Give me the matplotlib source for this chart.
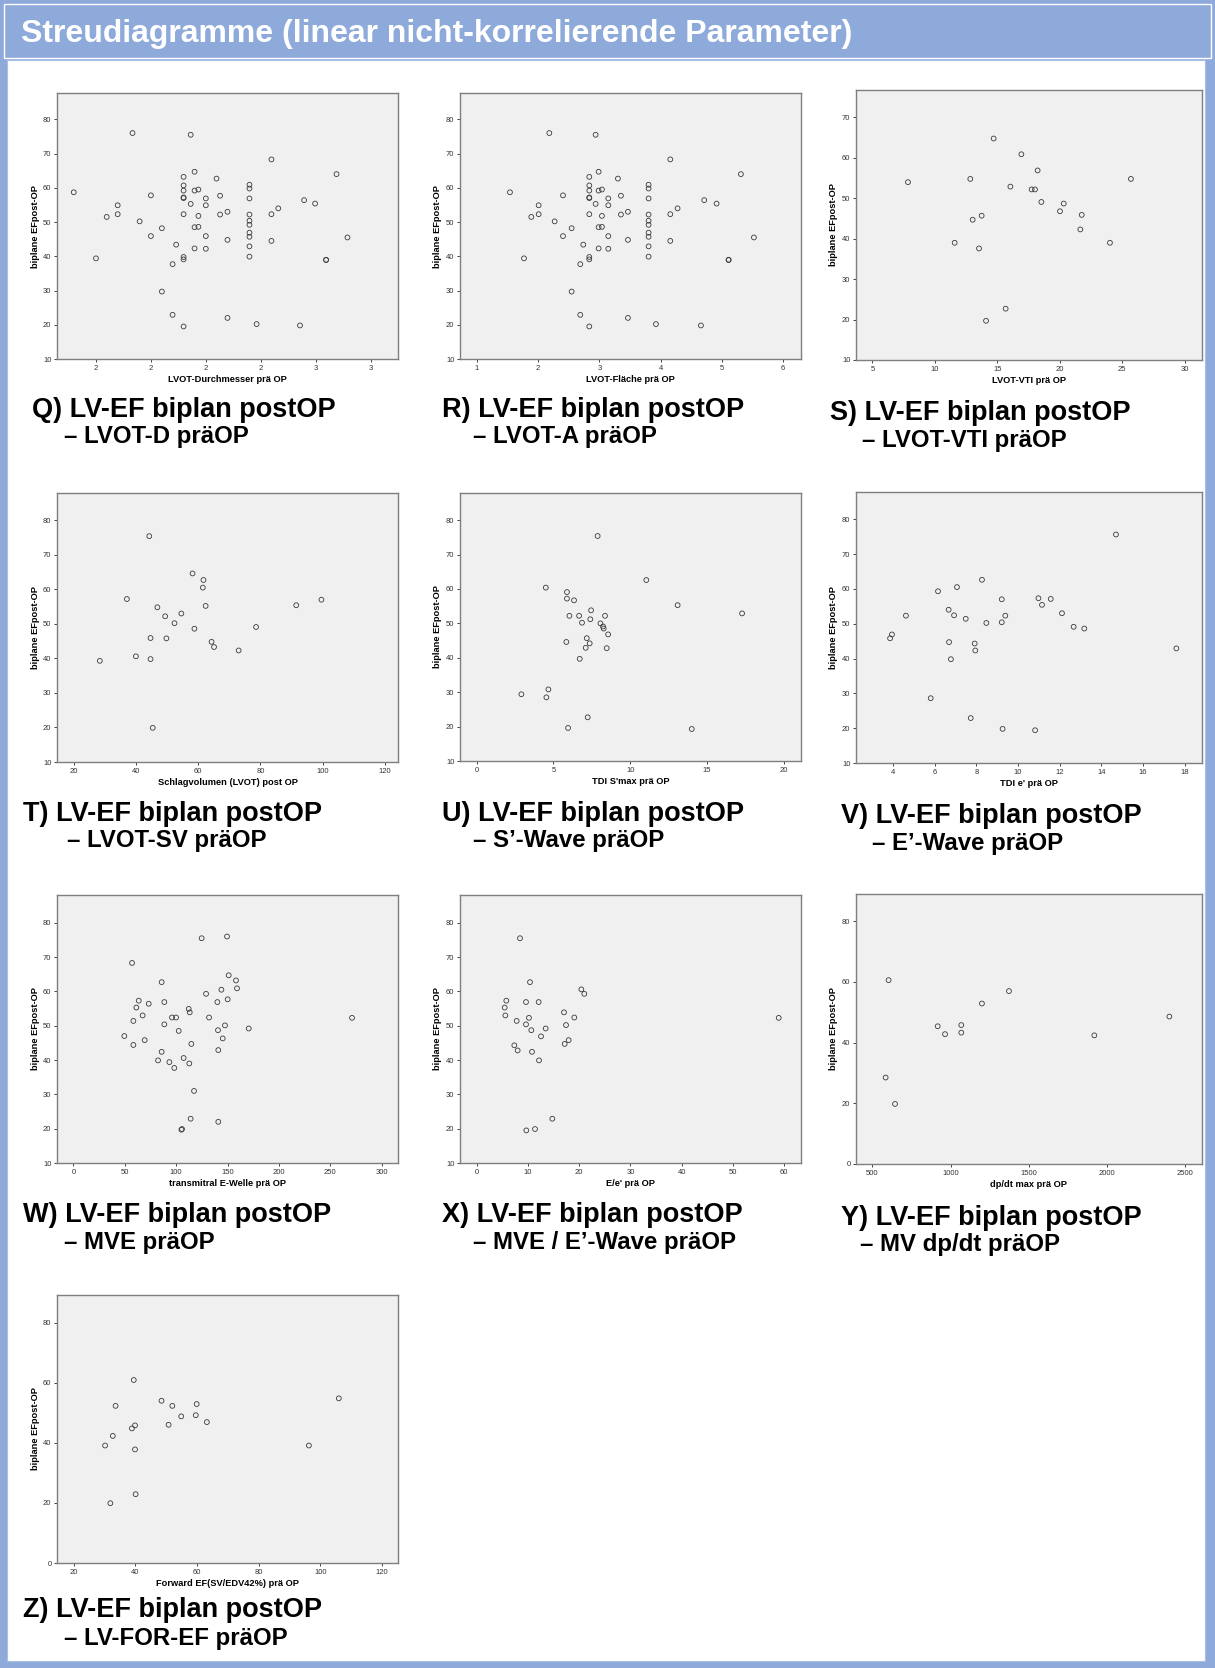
import matplotlib
matplotlib.use("Agg")
import matplotlib.pyplot as plt
from matplotlib.patches import Rectangle

plt.rcParams['font.family'] = ['Liberation Sans', 'DejaVu Sans']

W, H = 1215, 1668
BLUE = '#8eaadb'

# Q / R: same patients, LVOT diameter and LVOT area
ef_qr = [58.7, 39.4, 51.5, 54.9, 52.3, 76.0, 50.2, 57.8, 45.9, 48.2, 29.7, 37.7, 22.9, 43.4,
         63.2, 60.7, 59.2, 57.2, 57.0, 52.3, 39.8, 39.1, 19.5, 75.5, 55.3, 64.7, 59.2, 48.5,
         42.3, 59.5, 51.8, 48.6, 56.9, 54.9, 45.9, 42.2, 62.7, 57.7, 52.2, 53.0, 44.8, 22.0,
         60.9, 59.8, 56.9, 52.2, 50.4, 49.2, 46.9, 45.7, 42.9, 39.9, 20.2, 68.3, 52.3, 44.5,
         54.0, 19.8, 56.4, 55.4, 39.0, 38.9, 64.0, 45.5]
lvot_d = [1.719, 1.80, 1.839, 1.879, 1.879, 1.933, 1.959, 2.0, 2.0, 2.04, 2.04, 2.079, 2.079, 2.092,
          2.119, 2.119, 2.119, 2.119, 2.119, 2.119, 2.119, 2.119, 2.119, 2.145, 2.145, 2.159, 2.159, 2.159,
          2.159, 2.173, 2.173, 2.173, 2.2, 2.2, 2.2, 2.2, 2.239, 2.252, 2.252, 2.279, 2.279, 2.279,
          2.359, 2.359, 2.359, 2.359, 2.359, 2.359, 2.359, 2.359, 2.359, 2.359, 2.385, 2.439, 2.439, 2.439,
          2.464, 2.543, 2.558, 2.598, 2.638, 2.638, 2.676, 2.716]
lvot_a = [1.543, 1.772, 1.891, 2.011, 2.011, 2.185, 2.272, 2.408, 2.408, 2.549, 2.549, 2.690, 2.690, 2.739,
          2.837, 2.837, 2.837, 2.837, 2.837, 2.837, 2.837, 2.837, 2.837, 2.940, 2.940, 2.989, 2.989, 2.989,
          2.989, 3.043, 3.043, 3.043, 3.147, 3.147, 3.147, 3.147, 3.304, 3.353, 3.353, 3.467, 3.467, 3.467,
          3.804, 3.804, 3.804, 3.804, 3.804, 3.804, 3.804, 3.804, 3.804, 3.804, 3.924, 4.158, 4.158, 4.158,
          4.277, 4.658, 4.712, 4.913, 5.109, 5.109, 5.310, 5.522]

# S: LVOT-VTI
lvot_vti = [7.85, 11.59, 12.84, 13.03, 13.54, 13.75, 14.10, 14.71, 15.67, 16.05, 16.93, 17.75, 18.02,
            18.23, 18.53, 20.02, 20.32, 21.65, 21.76, 24.02, 25.70]
ef_s = [54.0, 39.0, 54.8, 44.7, 37.6, 45.7, 19.7, 64.8, 22.7, 52.9, 60.9, 52.2, 52.2,
        56.9, 49.1, 46.8, 48.7, 42.3, 45.9, 39.0, 54.8]

# T: Schlagvolumen
sv_lvot = [28.4, 37.1, 40.0, 44.3, 44.7, 44.7, 45.4, 46.9, 49.4, 49.8, 52.4, 54.6, 58.2, 58.8,
           61.7, 61.5, 62.4, 64.3, 65.1, 73.0, 78.6, 91.5, 99.6]
ef_t = [39.3, 57.2, 40.6, 75.4, 45.9, 39.8, 19.9, 54.8, 52.2, 45.8, 50.2, 53.0, 64.6, 48.6,
        62.7, 60.5, 55.2, 44.8, 43.3, 42.3, 49.1, 55.4, 57.0]

# U: TDI S'max
tdi_s = [2.91, 4.50, 4.54, 4.67, 5.84, 5.88, 5.88, 5.95, 6.04, 6.34, 6.67, 6.71, 6.86, 7.10, 7.17,
         7.23, 7.36, 7.40, 7.45, 7.88, 8.06, 8.23, 8.27, 8.36, 8.47, 8.56, 11.05, 13.09, 14.01, 17.29]
ef_u = [29.4, 60.4, 28.5, 30.8, 44.6, 59.1, 57.2, 19.6, 52.2, 56.7, 52.2, 39.7, 50.2, 42.9, 45.7,
        22.7, 44.2, 51.2, 53.8, 75.4, 50.0, 49.1, 48.5, 52.2, 42.8, 46.8, 62.6, 55.3, 19.3, 52.9]

# V: TDI e'
tdi_e = [3.86, 3.95, 4.62, 5.81, 6.16, 6.67, 6.69, 6.78, 6.93, 7.07, 7.49, 7.73, 7.92, 7.95, 8.27,
         8.48, 9.22, 9.22, 9.26, 9.39, 10.82, 10.98, 11.15, 11.57, 12.11, 12.67, 13.18, 14.70, 17.60]
ef_v = [45.8, 46.9, 52.3, 28.6, 59.3, 54.0, 44.7, 39.8, 52.4, 60.5, 51.4, 22.9, 44.3, 42.3, 62.6,
        50.2, 50.4, 57.0, 19.8, 52.3, 19.4, 57.3, 55.4, 57.1, 53.0, 49.1, 48.6, 75.6, 42.9]

# W: transmitral E-Welle
mv_e = [49.6, 57.1, 58.4, 58.4, 61.3, 63.6, 67.4, 69.4, 73.3, 82.4, 85.9, 85.9, 88.5, 88.5, 93.4,
        96.0, 98.2, 99.9, 102.5, 105.1, 105.7, 107.3, 112.2, 112.8, 113.2, 114.1, 114.8, 117.4, 124.8,
        129.1, 132.0, 140.1, 140.7, 141.0, 141.0, 144.0, 145.3, 147.5, 149.5, 150.1, 151.1, 158.2,
        159.2, 170.6, 271.1]
ef_w = [47.0, 68.3, 51.4, 44.4, 55.3, 57.3, 53.0, 45.8, 56.4, 39.9, 62.7, 42.4, 56.9, 50.4, 39.4,
        52.4, 37.7, 52.4, 48.5, 19.7, 19.9, 40.6, 54.9, 39.0, 53.9, 22.9, 44.7, 31.0, 75.5,
        59.3, 52.4, 56.9, 48.7, 42.9, 22.0, 60.5, 46.3, 50.1, 76.0, 57.7, 64.7, 63.2,
        60.9, 49.2, 52.3]

# X: E/e'
e_e = [5.47, 5.60, 5.79, 7.35, 7.81, 8.0, 8.46, 9.63, 9.63, 9.69, 10.21, 10.41, 10.67, 10.8,
       11.39, 12.1, 12.17, 12.56, 13.47, 14.77, 17.05, 17.18, 17.44, 17.96, 19.06, 20.43, 21.01, 58.95]
ef_x = [55.3, 53.0, 57.3, 44.3, 51.4, 42.8, 75.5, 56.9, 50.4, 19.5, 52.3, 62.7, 48.7, 42.4,
        19.9, 56.9, 39.9, 46.9, 49.2, 22.9, 53.9, 44.7, 50.2, 45.8, 52.4, 60.6, 59.3, 52.3]

# Y: dp/dt max
dpdt = [585, 604, 645, 918, 965, 1069, 1069, 1201, 1374, 1920, 2400]
ef_y = [28.5, 60.6, 19.8, 45.4, 42.8, 45.8, 43.3, 52.9, 57.0, 42.4, 48.6]

# Z: Forward EF
fwd_ef = [30.2, 31.9, 32.7, 33.6, 38.9, 39.5, 39.9, 39.9, 40.1, 48.5, 50.8, 52.0, 54.9, 59.6,
          59.9, 63.2, 96.3, 106.0]
ef_z = [39.1, 19.9, 42.3, 52.3, 44.8, 60.9, 45.8, 37.8, 22.9, 54.0, 46.0, 52.3, 48.8, 49.2,
        52.9, 46.9, 39.1, 54.8]

xlabels = ["LVOT-Durchmesser prä OP", "LVOT-Fläche prä OP", "LVOT-VTI prä OP",
           "Schlagvolumen (LVOT) post OP", "TDI S'max prä OP", "TDI e' prä OP",
           "transmitral E-Welle prä OP", "E/e' prä OP", "dp/dt max prä OP",
           "Forward EF(SV/EDV42%) prä OP"]
captions = [("Q) LV-EF biplan postOP", "– LVOT-D präOP"),
            ("R) LV-EF biplan postOP", "– LVOT-A präOP"),
            ("S) LV-EF biplan postOP", "– LVOT-VTI präOP"),
            ("T) LV-EF biplan postOP", "– LVOT-SV präOP"),
            ("U) LV-EF biplan postOP", "– S’-Wave präOP"),
            ("V) LV-EF biplan postOP", "– E’-Wave präOP"),
            ("W) LV-EF biplan postOP", "– MVE präOP"),
            ("X) LV-EF biplan postOP", "– MVE / E’-Wave präOP"),
            ("Y) LV-EF biplan postOP", "– MV dp/dt präOP"),
            ("Z) LV-EF biplan postOP", "– LV-FOR-EF präOP")]
xticks = [[1.8, 2.0, 2.2, 2.4, 2.6, 2.8], [1, 2, 3, 4, 5, 6], [5, 10, 15, 20, 25, 30],
          [20, 40, 60, 80, 100, 120], [0, 5, 10, 15, 20], [4, 6, 8, 10, 12, 14, 16, 18],
          [0, 50, 100, 150, 200, 250, 300], [0, 10, 20, 30, 40, 50, 60],
          [500, 1000, 1500, 2000, 2500], [20, 40, 60, 80, 100, 120]]
yticks_a = [10, 20, 30, 40, 50, 60, 70, 80]
yticks_s = [10, 20, 30, 40, 50, 60, 70]
yticks_b = [0, 20, 40, 60, 80]

series = [(lvot_d, ef_qr), (lvot_a, ef_qr), (lvot_vti, ef_s), (sv_lvot, ef_t), (tdi_s, ef_u),
          (tdi_e, ef_v), (mv_e, ef_w), (e_e, ef_x), (dpdt, ef_y), (fwd_ef, ef_z)]

# layout in pixels: axes box (l, t, r, b), limits, caption anchors
boxes = [(57, 93, 398, 359), (460, 93, 801, 359), (856, 90, 1202, 360),
         (57, 493, 398, 762), (460, 493, 801, 761), (856, 492, 1202, 763),
         (57, 895, 398, 1163), (460, 895, 801, 1163), (856, 894, 1202, 1164),
         (57, 1295, 398, 1563)]
xlims = [(1.658, 2.90), (0.728, 6.29), (3.69, 31.39), (14.65, 124.2), (-1.09, 21.13),
         (2.224, 18.83), (-15.9, 315.8), (-3.25, 63.3), (395.5, 2608.7), (14.6, 125.2)]
ylims = [(10, 87.7), (10, 87.7), (10, 76.8), (10, 87.9), (10, 87.9), (10, 87.8),
         (10, 88.1), (10, 88.1), (0, 89.0), (0, 89.2)]
ytk = [yticks_a, yticks_a, yticks_s, yticks_a, yticks_a, yticks_a, yticks_a, yticks_a,
       yticks_b, yticks_b]
cap_pos = [((32, 410), (64, 437)), ((442, 410), (473, 437)), ((830, 413), (862, 440)),
           ((23, 814), (67, 841)), ((442, 814), (473, 841)), ((841, 816), (872, 844)),
           ((23, 1215), (64, 1243)), ((442, 1215), (473, 1243)), ((841, 1218), (860, 1245)),
           ((23, 1610), (64, 1638))]

fig = plt.figure(figsize=(W / 100, H / 100), dpi=100)
fig.patch.set_facecolor('white')

# slide frame
bg = fig.add_axes([0, 0, 1, 1], zorder=-10)
bg.set_xlim(0, W)
bg.set_ylim(H, 0)
bg.axis('off')
bg.add_patch(Rectangle((0, 0), W, H, color=BLUE, lw=0))
bg.add_patch(Rectangle((7, 60), 1198, 1601, facecolor='white', edgecolor='#a9bfe4', lw=0.8))
bg.add_patch(Rectangle((4, 4), W - 8, 54, fill=False, edgecolor='white', lw=1.0))
fig.text(21 / W, 1 - 34 / H, "Streudiagramme (linear nicht-korrelierende Parameter)",
         color='white', fontsize=23, fontweight='bold', va='center', ha='left')

for i in range(10):
    l, t, r, b = boxes[i]
    ax = fig.add_axes([l / W, 1 - b / H, (r - l) / W, (b - t) / H])
    ax.set_facecolor('#f0f0f0')
    xs, ys = series[i]
    ax.scatter(xs, ys, s=12, facecolors='none', edgecolors='#3a3a3a', linewidths=0.6, zorder=3)
    ax.set_xlim(*xlims[i])
    ax.set_ylim(*ylims[i])
    ax.set_xticks(xticks[i])
    ax.set_yticks(ytk[i])
    ax.xaxis.set_major_formatter(matplotlib.ticker.FormatStrFormatter('%.0f'))
    ax.tick_params(labelsize=5.5, length=2.5, width=0.6, pad=1.5, colors='#222222',
                   labelcolor='#333333')
    for sp in ax.spines.values():
        sp.set_color('#7f7f7f')
        sp.set_linewidth(1.0)
    ax.set_xlabel(xlabels[i], fontsize=6.7, fontweight='bold')
    ax.xaxis.set_label_coords(0.5, -16 / (b - t))
    ax.set_ylabel("biplane EFpost-OP", fontsize=6.7, fontweight='bold')
    ax.yaxis.set_label_coords(-17.5 / (r - l), 0.5)

    (x1, y1), (x2, y2) = cap_pos[i]
    fig.text(x1 / W, 1 - y1 / H, captions[i][0], fontsize=19.5, fontweight='bold',
             va='center', ha='left')
    fig.text(x2 / W, 1 - y2 / H, captions[i][1], fontsize=17.3, fontweight='bold',
             va='center', ha='left')

fig.savefig('out.png', dpi=100)
